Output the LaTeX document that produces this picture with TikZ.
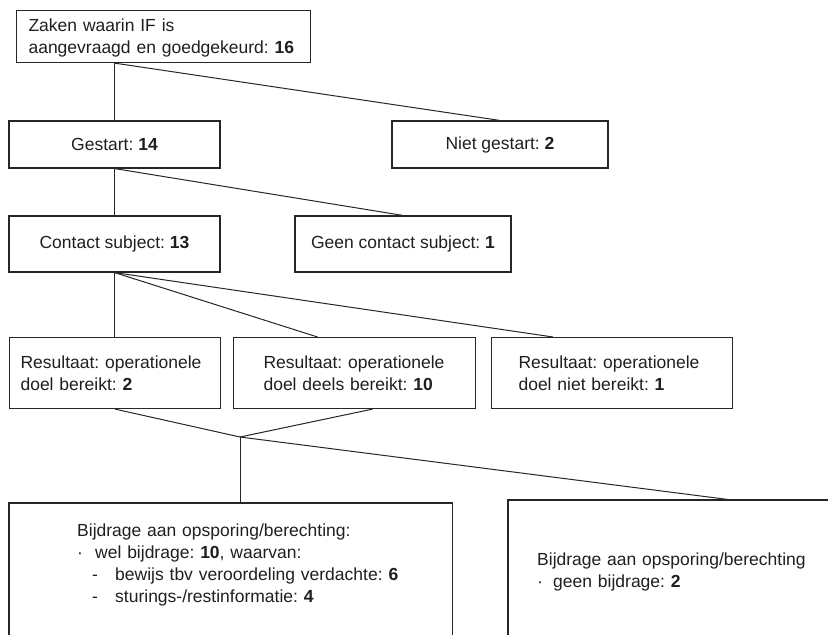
\documentclass[tikz,border=0pt]{standalone}
\usepackage{fontspec}
\setmainfont{Liberation Sans}
\usetikzlibrary{calc}
\begin{document}
\frenchspacing
\begin{tikzpicture}[x=1pt,y=-1pt,
  txt/.style={inner ysep=0pt, text=black!88,
    font=\fontsize{17.5}{22}\selectfont\frenchspacing},
  box/.style={txt, draw=black!85, line width=1.1pt},
  edge/.style={draw=black!85, line width=1.1pt},
  link/.style={draw=black!85, line width=1pt}]
\useasboundingbox (0,0) rectangle (828,635);
% level 1
\node[box, anchor=north west, minimum width=294, minimum height=52, inner xsep=12pt,
  text width=270, align=left] (zaken) at (16,10)
  {\rule{0pt}{15pt}\mbox{Zaken waarin IF is}\\\mbox{aangevraagd en goedgekeurd: \textbf{16}}};
% level 2
\node[box, minimum width=211, minimum height=47] (gestart) at (114.5,144.5)
  {Gestart: \textbf{14}};
\node[box, minimum width=216, minimum height=47] (niet) at (500,144.5)
  {Niet gestart: \textbf{2}};
% level 3
\node[box, minimum width=211, minimum height=56] (contact) at (114.5,244)
  {Contact subject: \textbf{13}};
\node[box, minimum width=216, minimum height=56] (geen) at (403,244)
  {Geen contact subject: \textbf{1}};
% level 4
\node[box, anchor=north west, minimum width=211, minimum height=71, inner xsep=11pt,
  text width=189, align=left] (r1) at (9,337)
  {\mbox{Resultaat: operationele}\\\mbox{doel bereikt: \textbf{2}}};
\node[box, anchor=north west, minimum width=242, minimum height=71, inner xsep=30pt,
  text width=182, align=left] (r2) at (233,337)
  {\mbox{Resultaat: operationele}\\\mbox{doel deels bereikt: \textbf{10}}};
\node[box, anchor=north west, minimum width=241, minimum height=71, inner xsep=27pt,
  text width=187, align=left] (r3) at (491,337)
  {\mbox{Resultaat: operationele}\\\mbox{doel niet bereikt: \textbf{1}}};
% level 5 (boxes run past the lower edge of the picture)
\node[txt, anchor=north west, minimum width=443, minimum height=124, inner xsep=68pt,
  text width=307, align=left] (bl) at (9,503)
  {\mbox{Bijdrage aan opsporing/berechting:}\\
   \mbox{\makebox[18pt][l]{·}wel bijdrage: \textbf{10}, waarvan:}\\
   \mbox{\hspace*{15pt}\makebox[23pt][l]{-}bewijs tbv veroordeling verdachte: \textbf{6}}\\
   \mbox{\hspace*{15pt}\makebox[23pt][l]{-}sturings-/restinformatie: \textbf{4}}};
\draw[edge] ($(bl.south west)+(0,30)$) -- (bl.north west) -- (bl.north east) -- ($(bl.south east)+(0,30)$);
\node[txt, anchor=north west, minimum width=340, minimum height=144, inner xsep=29pt,
  text width=282, align=left] (br) at (508,500)
  {\mbox{Bijdrage aan opsporing/berechting}\\
   \mbox{\makebox[16pt][l]{·}geen bijdrage: \textbf{2}}};
\draw[edge] ($(br.south west)+(0,10)$) -- (br.north west) -- (br.north east);
% connectors
\draw[link] (gestart.north |- zaken.south) -- (gestart.north);
\draw[link] (gestart.north |- zaken.south) -- (niet.north);
\draw[link] (gestart.south) -- (contact.north);
\draw[link] (gestart.south) -- (geen.north);
\draw[link] (contact.south) -- (contact.south |- r1.north);
\draw[link] (contact.south) -- ($(r2.north)+(-37,0)$);
\draw[link] (contact.south) -- ($(r3.north)+(-59,0)$);
\coordinate (j) at (240,437);
\draw[link] (r1.south) -- (j);
\draw[link] ($(r2.south)+(18,0)$) -- (j);
\draw[link] (j) -- (j |- bl.north);
\draw[link] (j) -- ($(br.north west)+(224,0)$);
\end{tikzpicture}
\end{document}
